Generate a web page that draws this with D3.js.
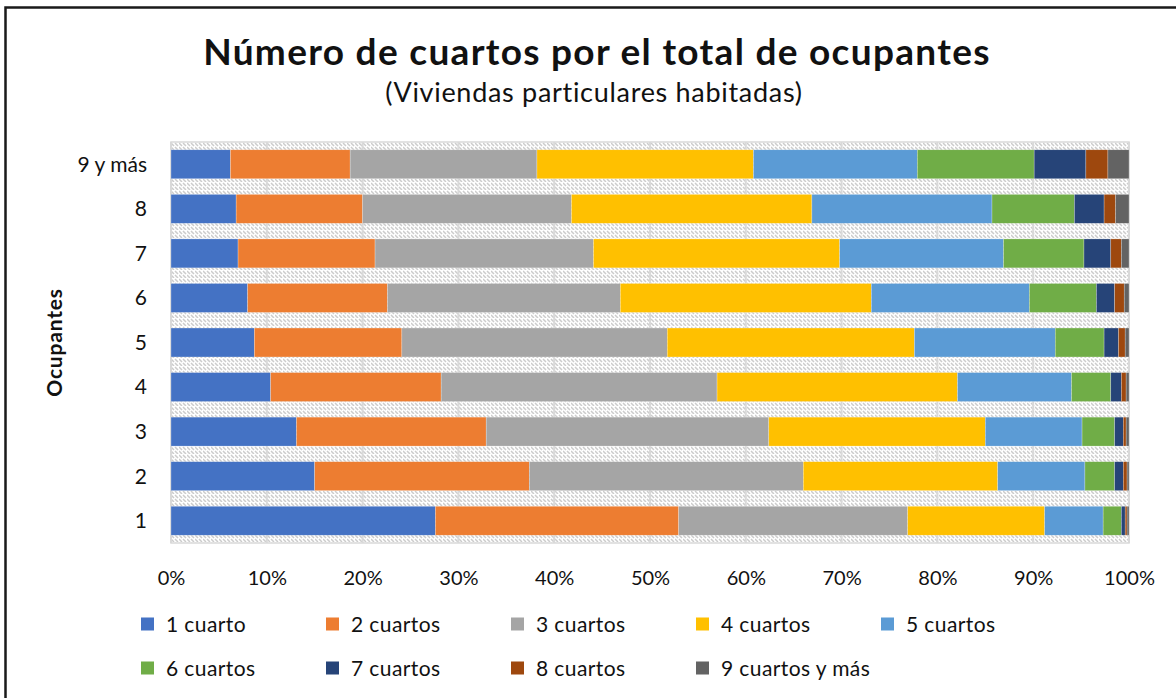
<!DOCTYPE html>
<html>
<head>
<meta charset="utf-8">
<script src="https://cdn.jsdelivr.net/npm/d3@7"></script>
<style>
  body { margin:0; background:#fff; }
  svg text { font-family: Lato, "Open Sans", sans-serif; fill:#111; }
</style>
</head>
<body>
<div id="chart"></div>
<script>
// categorias (eje Y, de abajo hacia arriba)
var OCUPANTES = ['1','2','3','4','5','6','7','8','9 y más'];
var SERIES = ['1 cuarto','2 cuartos','3 cuartos','4 cuartos','5 cuartos','6 cuartos','7 cuartos','8 cuartos','9 cuartos y más'];
var COLORES = ['#4472C4','#ED7D31','#A5A5A5','#FFC000','#5B9BD5','#70AD47','#264478','#9E480E','#636363'];
var X_TICKS = [0,0.1,0.2,0.3,0.4,0.5,0.6,0.7,0.8,0.9,1];

// porcentaje por numero de ocupantes (1..9 y mas)
var C1 = [27.6, 15.0, 13.1, 10.4, 8.7, 8.0, 7.0, 6.8, 6.2];
var C2 = [25.4, 22.4, 19.8, 17.8, 15.4, 14.6, 14.3, 13.2, 12.5];
var C3 = [23.9, 28.6, 29.5, 28.8, 27.7, 24.3, 22.8, 21.8, 19.5];
var C4 = [14.3, 20.3, 22.6, 25.1, 25.8, 26.2, 25.7, 25.1, 22.6];
var C5 = [6.1, 9.1, 10.1, 11.9, 14.7, 16.5, 17.1, 18.8, 17.1];
var C6 = [1.9, 3.1, 3.4, 4.1, 5.1, 7.0, 8.4, 8.6, 12.2];
var C7 = [0.4, 0.9, 0.9, 1.1, 1.5, 1.9, 2.8, 3.1, 5.4];
var C8 = [0.2, 0.4, 0.3, 0.5, 0.7, 1.0, 1.1, 1.2, 2.3];
var C9 = [0.2, 0.2, 0.3, 0.3, 0.4, 0.5, 0.8, 1.4, 2.2];
var VALORES = [C1,C2,C3,C4,C5,C6,C7,C8,C9];

var width = 1176, height = 698;
var margin = {top: 142, right: 47, bottom: 155, left: 171};

// tabla para d3.stack
var tabla = OCUPANTES.map(function(o, i) {
  var row = {ocupantes: o};
  SERIES.forEach(function(s, j) { row[s] = VALORES[j][i]; });
  return row;
});

var svg = d3.select('#chart').append('svg')
  .attr('width', width)
  .attr('height', height);

// marco del grafico
svg.append('rect')
  .attr('x', 5.5).attr('y', 7.5)
  .attr('width', 1300).attr('height', 900)
  .attr('fill', 'none')
  .attr('stroke', '#1a1a1a')
  .attr('stroke-width', 2.5);

// patron de fondo del area de trazado
var defs = svg.append('defs');
var pat = defs.append('pattern')
  .attr('id', 'rayas')
  .attr('patternUnits', 'userSpaceOnUse')
  .attr('width', 8).attr('height', 8);
pat.append('rect').attr('width', 8).attr('height', 8).attr('fill', '#fff');
pat.append('path')
  .attr('d', 'M0,1L3,4M4,1L7,4M0,5L3,8M4,5L7,8')
  .attr('stroke', '#cccccc')
  .attr('stroke-width', 1.5);

var w = width - margin.left - margin.right,
  h = height - margin.top - margin.bottom;

var x = d3.scaleLinear().domain([0, 1]).range([0, w]);
var y = d3.scaleBand()
  .domain(OCUPANTES.slice().reverse())
  .range([0, h])
  .paddingInner(0.35)
  .paddingOuter(0.175);

var g = svg.append('g')
  .attr('transform', 'translate(' + margin.left + ',' + margin.top + ')');

g.append('rect')
  .attr('width', w).attr('height', h)
  .attr('fill', 'url(#rayas)');

// lineas de division
g.append('g')
  .selectAll('line')
  .data(X_TICKS)
  .enter().append('line')
  .attr('x1', function(d) { return x(d); })
  .attr('x2', function(d) { return x(d); })
  .attr('y1', 0).attr('y2', h)
  .attr('stroke', '#d9d9d9')
  .attr('stroke-width', 2);

g.append('rect')
  .attr('width', w).attr('height', h)
  .attr('fill', 'none')
  .attr('stroke', '#d9d9d9')
  .attr('stroke-width', 1.5);

var stack = d3.stack()
  .keys(SERIES)
  .offset(d3.stackOffsetExpand);
var capas = stack(tabla);

g.selectAll('.serie')
  .data(capas)
  .enter().append('g')
  .attr('class', 'serie')
  .attr('fill', function(d, i) { return COLORES[i]; })
  .selectAll('rect')
  .data(function(d) { return d; })
  .enter().append('rect')
  .attr('x', function(d) { return x(d[0]); })
  .attr('width', function(d) { return x(d[1]) - x(d[0]); })
  .attr('y', function(d) { return y(d.data.ocupantes); })
  .attr('height', y.bandwidth())
  .attr('stroke', '#fff')
  .attr('stroke-opacity', 0.5)
  .attr('stroke-width', 0.5);

// eje X
var xAxis = d3.axisBottom(x)
  .tickValues(X_TICKS)
  .tickFormat(d3.format('.0%'))
  .tickSize(0)
  .tickPadding(0);
var gx = g.append('g')
  .attr('transform', 'translate(0,' + h + ')')
  .call(xAxis);
gx.select('.domain').remove();
gx.selectAll('text')
  .attr('dy', 0)
  .attr('y', 42)
  .style('font-size', '20px');

// eje Y
var yAxis = d3.axisLeft(y).tickSize(0).tickPadding(0);
var gy = g.append('g').call(yAxis);
gy.select('.domain').remove();
gy.selectAll('text')
  .attr('x', -24)
  .attr('dy', '0.35em')
  .style('font-size', '21px');

svg.append('text')
  .attr('transform', 'translate(62,' + (margin.top + h / 2) + ') rotate(-90)')
  .attr('text-anchor', 'middle')
  .style('font-size', '21px')
  .style('font-weight', 'bold')
  .style('letter-spacing', '0.8px')
  .text('Ocupantes');

// titulos
svg.append('text')
  .attr('x', 597).attr('y', 65)
  .attr('text-anchor', 'middle')
  .style('font-size', '37px')
  .style('font-weight', 'bold')
  .style('letter-spacing', '1.3px')
  .text('Número de cuartos por el total de ocupantes');

svg.append('text')
  .attr('x', 594).attr('y', 102)
  .attr('text-anchor', 'middle')
  .style('font-size', '27px')
  .style('letter-spacing', '0.7px')
  .text('(Viviendas particulares habitadas)');

// leyenda
var leyenda = svg.append('g')
  .selectAll('g')
  .data(SERIES)
  .enter().append('g')
  .attr('transform', function(d, i) {
    return 'translate(' + (141 + (i % 5) * 185) + ',' + (624 + Math.floor(i / 5) * 44) + ')';
  });
leyenda.append('rect')
  .attr('y', -6.5)
  .attr('width', 13).attr('height', 13)
  .attr('fill', function(d, i) { return COLORES[i]; });
leyenda.append('text')
  .attr('x', 25)
  .attr('dy', '0.36em')
  .style('font-size', '21px')
  .style('letter-spacing', '0.4px')
  .text(function(d) { return d; });
</script>
</body>
</html>
